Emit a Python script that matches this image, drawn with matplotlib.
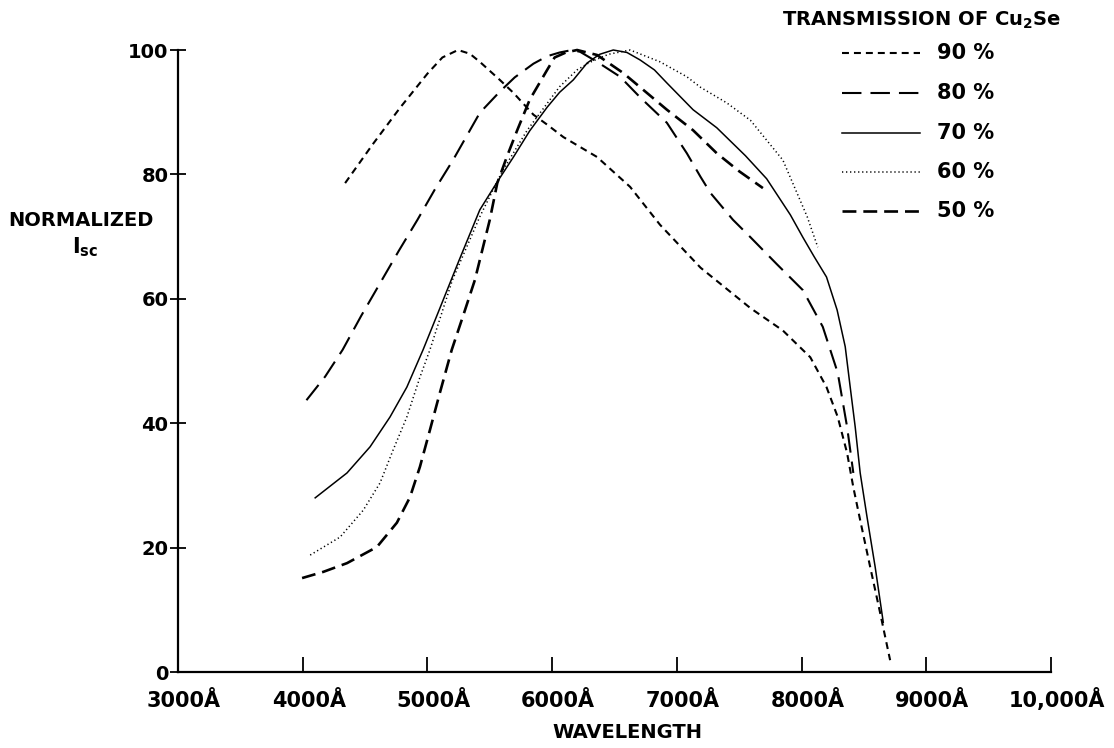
import matplotlib
matplotlib.use("Agg")
import matplotlib.pyplot as plt
from matplotlib.transforms import ScaledTranslation

plt.rcParams["font.family"] = ["DejaVu Sans"]
plt.rcParams["mathtext.fontset"] = "dejavusans"
plt.rcParams["lines.scale_dashes"] = False

# wavelength (Angstrom) / normalized Isc for each Cu2Se transmission
wl_90 = [4340, 4560, 4780, 5000, 5120, 5245, 5340, 5420, 5580, 5690, 5850,
         5960, 6090, 6360, 6625, 6865, 7190, 7590, 7850, 8070, 8200, 8290,
         8365, 8415, 8470, 8550, 8630, 8710]
isc_90 = [78.6, 84.8, 90.7, 96.2, 98.8, 100.0, 99.4, 98.1, 95.2, 93.1, 89.6,
          88.0, 86.0, 82.8, 78.0, 71.9, 65.0, 58.5, 54.9, 50.6, 45.8, 41.0,
          35.2, 29.7, 24.4, 16.9, 9.5, 1.9]

wl_80 = [4030, 4180, 4320, 4470, 4620, 4770, 4920, 5060, 5205, 5420, 5580,
         5700, 5850, 5960, 6060, 6160, 6225, 6360, 6545, 6705, 6920, 7080,
         7190, 7270, 7450, 7590, 7800, 8010, 8170, 8290, 8365, 8415]
isc_80 = [43.7, 47.5, 51.8, 57.3, 62.5, 67.7, 72.7, 77.6, 82.3, 89.9, 93.3,
          95.6, 97.8, 99.0, 99.6, 100.0, 99.7, 98.1, 95.7, 92.4, 88.3, 83.4,
          79.6, 77.0, 72.7, 69.9, 65.6, 61.4, 55.5, 48.1, 39.4, 32.0]

wl_70 = [4100, 4355, 4540, 4700, 4835, 4965, 5100, 5250, 5420, 5560, 5690,
         5820, 5960, 6060, 6170, 6280, 6380, 6490, 6600, 6705, 6820, 6920,
         7130, 7320, 7550, 7720, 7910, 8010, 8100, 8200, 8285, 8350, 8390,
         8430, 8470, 8525, 8590, 8655]
isc_70 = [28.0, 32.0, 36.2, 41.0, 45.8, 51.8, 58.5, 66.0, 74.3, 78.8, 82.8,
          87.0, 90.8, 93.2, 95.2, 97.9, 99.3, 100.0, 99.6, 98.4, 96.8, 94.7,
          90.4, 87.5, 83.0, 79.3, 73.5, 69.9, 66.8, 63.5, 58.2, 52.3, 45.8,
          39.4, 32.0, 24.9, 16.9, 8.0]

wl_60 = [4060, 4300, 4485, 4620, 4725, 4835, 4940, 5020, 5200, 5420, 5600,
         5800, 6060, 6200, 6300, 6450, 6625, 6865, 7080, 7190, 7400, 7590,
         7850, 8045, 8130]
isc_60 = [18.8, 21.7, 26.0, 30.4, 35.7, 41.0, 47.4, 51.8, 63.0, 73.2, 80.5,
          87.1, 94.1, 96.8, 98.0, 99.3, 100.0, 98.1, 95.7, 94.0, 91.5, 88.7,
          82.3, 73.2, 68.3]

wl_50 = [3995, 4165, 4355, 4595, 4755, 4860, 4940, 5020, 5100, 5195, 5290,
         5380, 5500, 5560, 5640, 5720, 5820, 5960, 6020, 6110, 6200, 6360,
         6570, 6760, 6920, 7130, 7320, 7500, 7690]
isc_50 = [15.1, 16.1, 17.5, 20.1, 24.0, 28.1, 33.0, 38.9, 44.9, 51.8, 57.5,
          63.0, 72.7, 78.6, 83.0, 87.1, 92.0, 96.8, 98.8, 99.6, 100.0, 99.2,
          96.3, 93.1, 90.4, 87.1, 83.4, 80.5, 77.8]

legend_labels = ["90 %", "80 %", "70 %", "60 %", "50 %"]
x_ticks = [3000, 4000, 5000, 6000, 7000, 8000, 9000, 10000]
x_tick_labels = ["3000Å", "4000Å", "5000Å", "6000Å", "7000Å", "8000Å",
                 "9000Å", "10,000Å"]
y_ticks = [0, 20, 40, 60, 80, 100]

styles = [
    dict(color="black", lw=1.5, linestyle=(0, (5.0, 3.6))),
    dict(color="black", lw=1.5, linestyle=(0, (14, 6.5))),
    dict(color="black", lw=1.1, linestyle="-"),
    dict(color="black", lw=1.1, linestyle=(0, (0.9, 2.0))),
    dict(color="black", lw=1.9, linestyle=(0, (10, 5))),
]
series = [(wl_90, isc_90), (wl_80, isc_80), (wl_70, isc_70),
          (wl_60, isc_60), (wl_50, isc_50)]

W, H = 1114, 748
fig = plt.figure(figsize=(W / 100, H / 100), dpi=100)
ax = fig.add_axes([178 / W, 1 - 672 / H, (1051 - 178) / W, (672 - 50) / H])

for (x, y), st in zip(series, styles):
    ax.plot(x, y, clip_on=False, solid_joinstyle="round", **st)

ax.set_xlim(3000, 10000)
ax.set_ylim(0, 100)
for side in ("top", "right"):
    ax.spines[side].set_visible(False)
for side in ("left", "bottom"):
    ax.spines[side].set_linewidth(1.6)

ax.set_xticks(x_ticks)
ax.set_xticklabels(x_tick_labels, fontsize=15, fontweight="bold",
                   va="baseline")
ax.set_yticks(y_ticks)
ax.set_yticklabels([str(v) for v in y_ticks], fontsize=14, fontweight="bold")
ax.tick_params(axis="x", direction="in", length=11, width=1.3, pad=25)
ax.tick_params(axis="y", direction="inout", length=12, width=1.3, pad=1)

# the hand-lettered labels sit a little to the right of their ticks
shift = ScaledTranslation(6 / 100, 0, fig.dpi_scale_trans)
for lab in ax.get_xticklabels():
    lab.set_transform(lab.get_transform() + shift)

fig.text(81 / W, 1 - 220 / H, "NORMALIZED", ha="center", va="center",
         fontsize=14, fontweight="bold")
fig.text(85 / W, 1 - 247 / H, r"$\mathbf{I}_{\mathbf{sc}}$", ha="center",
         va="center", fontsize=15)
fig.text(627 / W, 1 - 732 / H, "WAVELENGTH", ha="center", va="center",
         fontsize=14, fontweight="bold")

# legend block, upper right
fig.text(922 / W, 1 - 20 / H, r"TRANSMISSION OF Cu$_\mathbf{2}$Se",
         ha="center", va="center", fontsize=14, fontweight="bold")
leg_y = [53, 93, 133, 172, 211]
for yy, st, lab in zip(leg_y, styles, legend_labels):
    fig.add_artist(plt.Line2D([842 / W, 920 / W], [1 - yy / H, 1 - yy / H],
                              transform=fig.transFigure, **st))
    fig.text(937 / W, 1 - yy / H, lab, ha="left", va="center",
             fontsize=15, fontweight="bold")

fig.savefig("out.png", dpi=100)
